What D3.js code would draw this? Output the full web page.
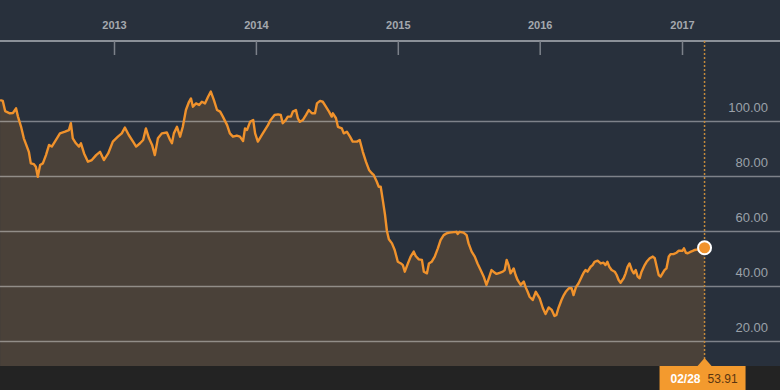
<!DOCTYPE html>
<html>
<head>
<meta charset="utf-8">
<script src="https://cdn.jsdelivr.net/npm/d3@7/dist/d3.min.js"></script>
<style>
    html, body { margin: 0; padding: 0; background: #28303c; }
    svg { display: block; font-family: "Liberation Sans", Arial, sans-serif; }
</style>
</head>
<body>
<script>
// price history
var dates = [
    "2012-03-14","2012-03-21","2012-03-27","2012-04-08","2012-04-16","2012-04-24","2012-04-29","2012-05-07","2012-05-14","2012-05-22",
    "2012-05-27","2012-06-01","2012-06-09","2012-06-14","2012-06-19","2012-06-25","2012-07-02","2012-07-10","2012-07-18","2012-07-25",
    "2012-08-02","2012-08-15","2012-08-28","2012-09-07","2012-09-12","2012-09-17","2012-09-25","2012-10-03","2012-10-08","2012-10-16",
    "2012-10-26","2012-11-05","2012-11-16","2012-11-26","2012-12-06","2012-12-17","2012-12-29",
    "2013-01-11","2013-01-21","2013-01-29","2013-02-08","2013-02-19","2013-02-27","2013-03-09","2013-03-17","2013-03-24","2013-04-01",
    "2013-04-09","2013-04-16","2013-04-24","2013-05-04","2013-05-17","2013-05-25","2013-05-30","2013-06-04","2013-06-12","2013-06-20",
    "2013-06-27","2013-07-05","2013-07-13","2013-07-18","2013-07-23","2013-07-31","2013-08-08","2013-08-15","2013-08-23","2013-08-31",
    "2013-09-07","2013-09-15","2013-09-23","2013-10-01","2013-10-08","2013-10-19","2013-10-26","2013-11-03","2013-11-13","2013-11-21",
    "2013-11-29","2013-12-04","2013-12-09","2013-12-17","2013-12-25","2013-12-30",
    "2014-01-06","2014-01-16","2014-01-24","2014-02-01","2014-02-08","2014-02-18","2014-02-27","2014-03-06","2014-03-11","2014-03-19",
    "2014-03-24","2014-04-01","2014-04-06","2014-04-14","2014-04-19","2014-04-24","2014-05-02","2014-05-10","2014-05-17","2014-05-25",
    "2014-06-02","2014-06-07","2014-06-15","2014-06-22","2014-06-30","2014-07-08","2014-07-15","2014-07-18","2014-07-26","2014-07-31",
    "2014-08-10","2014-08-15","2014-08-23","2014-08-31","2014-09-07","2014-09-18","2014-09-25","2014-10-03","2014-10-11","2014-10-19",
    "2014-10-26","2014-10-31","2014-11-08","2014-11-13","2014-11-18","2014-11-24","2014-11-29","2014-12-04","2014-12-09","2014-12-17",
    "2014-12-24",
    "2015-01-01","2015-01-09","2015-01-14","2015-01-19","2015-01-27","2015-02-03","2015-02-11","2015-02-16","2015-02-24","2015-03-04",
    "2015-03-09","2015-03-17","2015-03-22","2015-03-29","2015-04-06","2015-04-14","2015-04-21","2015-04-29","2015-05-07","2015-05-14",
    "2015-05-25","2015-06-01","2015-06-04","2015-06-09","2015-06-19","2015-06-27","2015-07-02","2015-07-10","2015-07-18","2015-07-25",
    "2015-08-02","2015-08-10","2015-08-17","2015-08-23","2015-08-30","2015-09-04","2015-09-12","2015-09-20","2015-09-28","2015-10-03",
    "2015-10-08","2015-10-13","2015-10-18","2015-10-26","2015-10-31","2015-11-05","2015-11-13","2015-11-21","2015-11-26","2015-12-01",
    "2015-12-06","2015-12-14","2015-12-22","2015-12-27",
    "2016-01-01","2016-01-09","2016-01-16","2016-01-24","2016-02-01","2016-02-08","2016-02-13","2016-02-18","2016-02-26","2016-03-03",
    "2016-03-08","2016-03-16","2016-03-23","2016-03-28","2016-04-03","2016-04-10","2016-04-18","2016-04-23","2016-04-28","2016-05-03",
    "2016-05-11","2016-05-16","2016-05-21","2016-05-29","2016-06-06","2016-06-13","2016-06-18","2016-06-23","2016-06-28","2016-07-04",
    "2016-07-12","2016-07-17","2016-07-22","2016-07-27","2016-08-04","2016-08-09","2016-08-14","2016-08-19","2016-08-25","2016-08-30",
    "2016-09-04","2016-09-09","2016-09-14","2016-09-19","2016-09-27","2016-10-02","2016-10-10","2016-10-18","2016-10-23","2016-10-28",
    "2016-11-02","2016-11-07","2016-11-12","2016-11-17","2016-11-22","2016-11-28","2016-12-03","2016-12-10","2016-12-18","2016-12-23",
    "2017-01-02","2017-01-06","2017-01-11","2017-01-16","2017-01-24","2017-01-29","2017-02-03","2017-02-11","2017-02-18","2017-02-28"
];

var prices = [
    107.6,107.3,103.6,102.8,102.9,104.6,101.6,97.9,93.7,90.7,
    88.8,84.6,84.3,83.4,79.7,84.0,84.6,87.6,91.3,90.7,
    92.5,95.5,96.1,96.7,99.2,93.7,91.9,90.7,91.9,88.2,
    85.2,85.8,87.6,88.8,85.8,88.2,92.5,
    94.3,95.5,97.6,94.9,92.5,90.7,91.9,93.1,97.3,93.7,
    91.3,87.6,93.7,95.5,95.8,93.2,91.9,95.5,97.9,94.3,
    97.9,104.0,107.0,108.2,105.2,106.4,105.8,107.0,106.4,108.8,
    110.7,107.6,104.0,103.4,101.6,98.5,95.5,94.3,94.7,94.3,
    92.7,97.3,96.7,99.7,100.4,95.5,
    92.5,94.9,96.7,98.5,100.4,102.2,102.4,102.2,99.2,100.4,
    101.6,101.6,103.4,104.0,101.0,99.7,100.4,102.2,104.0,102.8,
    102.8,106.4,107.3,107.0,105.2,103.4,101.6,102.8,101.0,97.9,
    97.3,95.5,96.1,94.3,92.5,92.5,93.1,88.8,85.2,82.2,
    81.0,80.4,77.9,76.1,76.1,70.7,66.0,60.0,57.0,55.5,
    53.1,
    48.8,48.2,47.6,45.2,48.2,50.7,52.5,50.9,49.7,49.5,
    45.2,44.6,48.2,48.8,50.7,53.7,56.7,58.5,59.2,59.4,
    59.6,59.7,58.9,59.7,59.4,58.5,55.5,52.5,50.7,48.2,
    45.8,43.4,40.4,42.8,45.8,45.2,44.4,44.8,45.2,45.8,
    49.5,47.6,44.6,46.4,44.0,42.2,40.4,41.6,39.5,37.9,
    36.1,34.9,37.9,36.7,
    35.5,32.0,29.8,32.2,31.3,29.1,29.5,31.9,34.9,36.7,
    37.9,39.2,39.2,36.7,39.5,41.0,43.4,44.8,45.8,45.2,
    47.0,47.6,48.8,49.2,48.2,48.5,47.6,48.8,47.0,45.8,
    45.2,44.0,42.2,41.2,42.8,44.6,47.0,48.2,45.8,44.6,
    45.8,43.4,42.8,45.2,47.6,48.8,50.1,50.7,50.1,47.0,
    44.0,43.4,44.6,45.8,46.4,50.7,51.6,51.6,52.1,52.8,
    52.8,53.7,52.1,51.9,52.5,52.8,53.1,53.3,53.3,53.91
];

var yTicks = [20, 40, 60, 80, 100];
var xDomain = ["2013-01-01", "2017-01-01"];
var lastLabel = "02/28";

(function(window){
    'use strict'

    var W = 780, H = 390;
    var parse = d3.timeParse("%Y-%m-%d");
    var data = dates.map(function(d, i) { return {date: parse(d), value: prices[i]}; });
    var last = data[data.length - 1];

    var axisY = 41, plotBottom = 366;

    var x = d3.scaleTime()
        .domain(xDomain.map(parse))
        .range([114, 682]);

    var y = d3.scaleLinear()
        .domain([20, 100])
        .range([341, 121]);

    var svg = d3.select("body").append("svg")
        .attr("width", W)
        .attr("height", H);

    svg.append("rect")
        .attr("width", W).attr("height", H)
        .attr("fill", "#28303c");

    // brown area under the price
    var area = d3.area()
        .x(function(d) { return x(d.date); })
        .y0(plotBottom)
        .y1(function(d) { return y(d.value); });

    svg.append("path")
        .datum(data)
        .attr("d", area)
        .attr("fill", "#4a4139");

    // horizontal grid + right labels
    var yAxis = svg.append("g")
        .attr("class", "y-axis")
        .call(d3.axisRight(y).tickValues(yTicks).tickSize(W).tickFormat(d3.format(".2f")));

    yAxis.select(".domain").remove();
    yAxis.selectAll(".tick line")
        .attr("stroke", "#ffffff")
        .attr("stroke-opacity", 0.4)
        .attr("stroke-width", 1.5);
    yAxis.selectAll(".tick text")
        .attr("x", 768)
        .attr("y", -10)
        .attr("dy", 0)
        .attr("text-anchor", "end")
        .attr("fill", "#9ba1a9")
        .attr("font-size", 13);

    // dark strip at the bottom
    svg.append("rect")
        .attr("x", 0).attr("y", plotBottom)
        .attr("width", W).attr("height", H - plotBottom)
        .attr("fill", "#232323");

    // top time axis
    svg.append("line")
        .attr("x1", 0).attr("x2", W)
        .attr("y1", axisY).attr("y2", axisY)
        .attr("stroke", "#8b9098")
        .attr("stroke-width", 2);

    var xAxis = svg.append("g")
        .attr("transform", "translate(0," + axisY + ")")
        .call(d3.axisBottom(x).ticks(d3.timeYear).tickSize(14).tickFormat(d3.timeFormat("%Y")));

    xAxis.select(".domain").remove();
    xAxis.selectAll(".tick line")
        .attr("stroke", "#7c818a")
        .attr("stroke-width", 1.5);
    xAxis.selectAll(".tick text")
        .attr("y", -12)
        .attr("dy", 0)
        .attr("fill", "#a4a8ae")
        .attr("font-size", 11)
        .attr("font-weight", "bold");

    // marker line at the last point
    var lx = x(last.date), ly = y(last.value);

    svg.append("line")
        .attr("x1", lx).attr("x2", lx)
        .attr("y1", axisY).attr("y2", 360)
        .attr("stroke", "#c48a3c")
        .attr("stroke-width", 1.5)
        .attr("stroke-dasharray", "2,2");

    var line = d3.line()
        .x(function(d) { return x(d.date); })
        .y(function(d) { return y(d.value); });

    svg.append("path")
        .datum(data)
        .attr("d", line)
        .attr("fill", "none")
        .attr("stroke", "#f0922c")
        .attr("stroke-width", 2.4)
        .attr("stroke-linejoin", "round");

    svg.append("circle")
        .attr("cx", lx).attr("cy", ly)
        .attr("r", 6.5)
        .attr("fill", "#f0922c")
        .attr("stroke", "#ffffff")
        .attr("stroke-width", 2);

    // bottom value tag
    var tag = svg.append("g");
    tag.append("path")
        .attr("d", "M" + (lx - 7) + "," + plotBottom + "L" + lx + "," + 358 + "L" + (lx + 7) + "," + plotBottom + "Z")
        .attr("fill", "#f39a2e");
    tag.append("rect")
        .attr("x", lx - 45).attr("y", plotBottom)
        .attr("width", 86).attr("height", H - plotBottom)
        .attr("fill", "#f39a2e");
    tag.append("text")
        .attr("x", lx - 4).attr("y", 383)
        .attr("text-anchor", "end")
        .attr("fill", "#ffffff")
        .attr("font-size", 12)
        .attr("font-weight", "bold")
        .text(lastLabel);
    tag.append("text")
        .attr("x", lx + 3).attr("y", 383)
        .attr("fill", "#5a3510")
        .attr("font-size", 12)
        .text(d3.format(".2f")(last.value));

})(window);
</script>
</body>
</html>
